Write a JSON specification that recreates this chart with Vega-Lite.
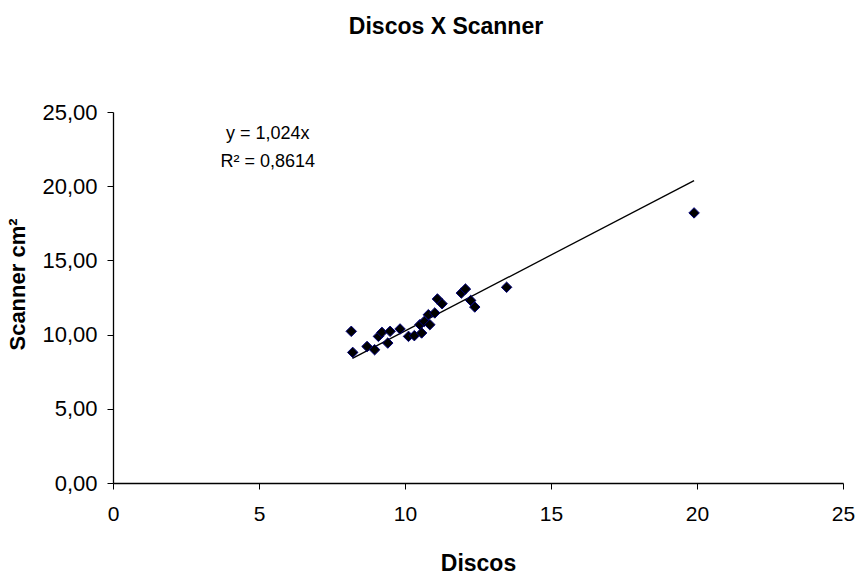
{
  "$schema": "https://vega.github.io/schema/vega-lite/v6.json",
  "width": 730,
  "height": 371,
  "autosize": "none",
  "padding": {"left": 113, "top": 112, "right": 13, "bottom": 98},
  "background": "white",
  "config": {"view": {"stroke": null}},
  "title": {
    "text": "Discos X Scanner",
    "font": "Liberation Sans",
    "fontSize": 23,
    "fontWeight": "bold",
    "color": "black",
    "anchor": "middle",
    "dx": -32,
    "offset": 62
  },
  "datasets": {
    "pts": [
      {"Discos": 8.16, "Scanner": 10.22},
      {"Discos": 8.21, "Scanner": 8.8},
      {"Discos": 8.7, "Scanner": 9.2},
      {"Discos": 8.96, "Scanner": 8.98},
      {"Discos": 9.09, "Scanner": 9.88},
      {"Discos": 9.21, "Scanner": 10.15},
      {"Discos": 9.41, "Scanner": 9.43},
      {"Discos": 9.49, "Scanner": 10.22},
      {"Discos": 9.83, "Scanner": 10.38},
      {"Discos": 10.12, "Scanner": 9.88},
      {"Discos": 10.32, "Scanner": 9.93},
      {"Discos": 10.51, "Scanner": 10.67},
      {"Discos": 10.57, "Scanner": 10.11},
      {"Discos": 10.66, "Scanner": 10.89},
      {"Discos": 10.8, "Scanner": 11.34},
      {"Discos": 10.85, "Scanner": 10.67},
      {"Discos": 11.02, "Scanner": 11.46},
      {"Discos": 11.11, "Scanner": 12.4},
      {"Discos": 11.27, "Scanner": 12.08},
      {"Discos": 11.93, "Scanner": 12.8},
      {"Discos": 12.07, "Scanner": 13.07},
      {"Discos": 12.25, "Scanner": 12.3},
      {"Discos": 12.39, "Scanner": 11.86},
      {"Discos": 13.48, "Scanner": 13.19},
      {"Discos": 19.9, "Scanner": 18.2}
    ],
    "trend": [
      {"Discos": 8.2, "Scanner": 8.4},
      {"Discos": 19.9, "Scanner": 20.38}
    ],
    "labels": [
      {"Discos": 5.3, "Scanner": 23.5, "t": "y = 1,024x"},
      {"Discos": 5.3, "Scanner": 21.6, "t": "R² = 0,8614"}
    ]
  },
  "layer": [
    {
      "data": {"name": "trend"},
      "mark": {"type": "line", "color": "black", "strokeWidth": 1.3},
      "encoding": {
        "x": {"field": "Discos", "type": "quantitative"},
        "y": {"field": "Scanner", "type": "quantitative"}
      }
    },
    {
      "data": {"name": "pts"},
      "mark": {"type": "point", "shape": "diamond", "filled": true, "color": "black", "stroke": "#00007a", "strokeWidth": 1, "size": 110, "opacity": 1},
      "encoding": {
        "x": {
          "field": "Discos", "type": "quantitative",
          "scale": {"domain": [0, 25], "nice": false, "zero": true},
          "axis": {
            "values": [0, 5, 10, 15, 20, 25],
            "title": "Discos",
            "titleFont": "Liberation Sans",
            "titleFontSize": 23,
            "titleFontWeight": "bold",
            "titleColor": "black",
            "titlePadding": 28,
            "labelFont": "Liberation Sans",
            "labelFontSize": 21,
            "labelColor": "black",
            "labelPadding": 14,
            "labelFlush": false,
            "grid": false,
            "domainColor": "black",
            "domainWidth": 1.3,
            "tickColor": "black",
            "tickSize": 6
          }
        },
        "y": {
          "field": "Scanner", "type": "quantitative",
          "scale": {"domain": [0, 25], "nice": false, "zero": true},
          "axis": {
            "values": [0, 5, 10, 15, 20, 25],
            "labelExpr": "replace(format(datum.value, '.2f'), '.', ',')",
            "title": "Scanner cm²",
            "titleFont": "Liberation Sans",
            "titleFontSize": 22,
            "titleFontWeight": "bold",
            "titleColor": "black",
            "titlePadding": 12,
            "titleY": 172,
            "labelFont": "Liberation Sans",
            "labelFontSize": 22,
            "labelColor": "black",
            "labelPadding": 10,
            "labelFlush": false,
            "grid": false,
            "domainColor": "black",
            "domainWidth": 1.3,
            "tickColor": "black",
            "tickSize": 6
          }
        }
      }
    },
    {
      "data": {"name": "labels"},
      "mark": {"type": "text", "font": "Liberation Sans", "fontSize": 18, "color": "black", "align": "center"},
      "encoding": {
        "x": {"field": "Discos", "type": "quantitative"},
        "y": {"field": "Scanner", "type": "quantitative"},
        "text": {"field": "t"}
      }
    }
  ]
}
